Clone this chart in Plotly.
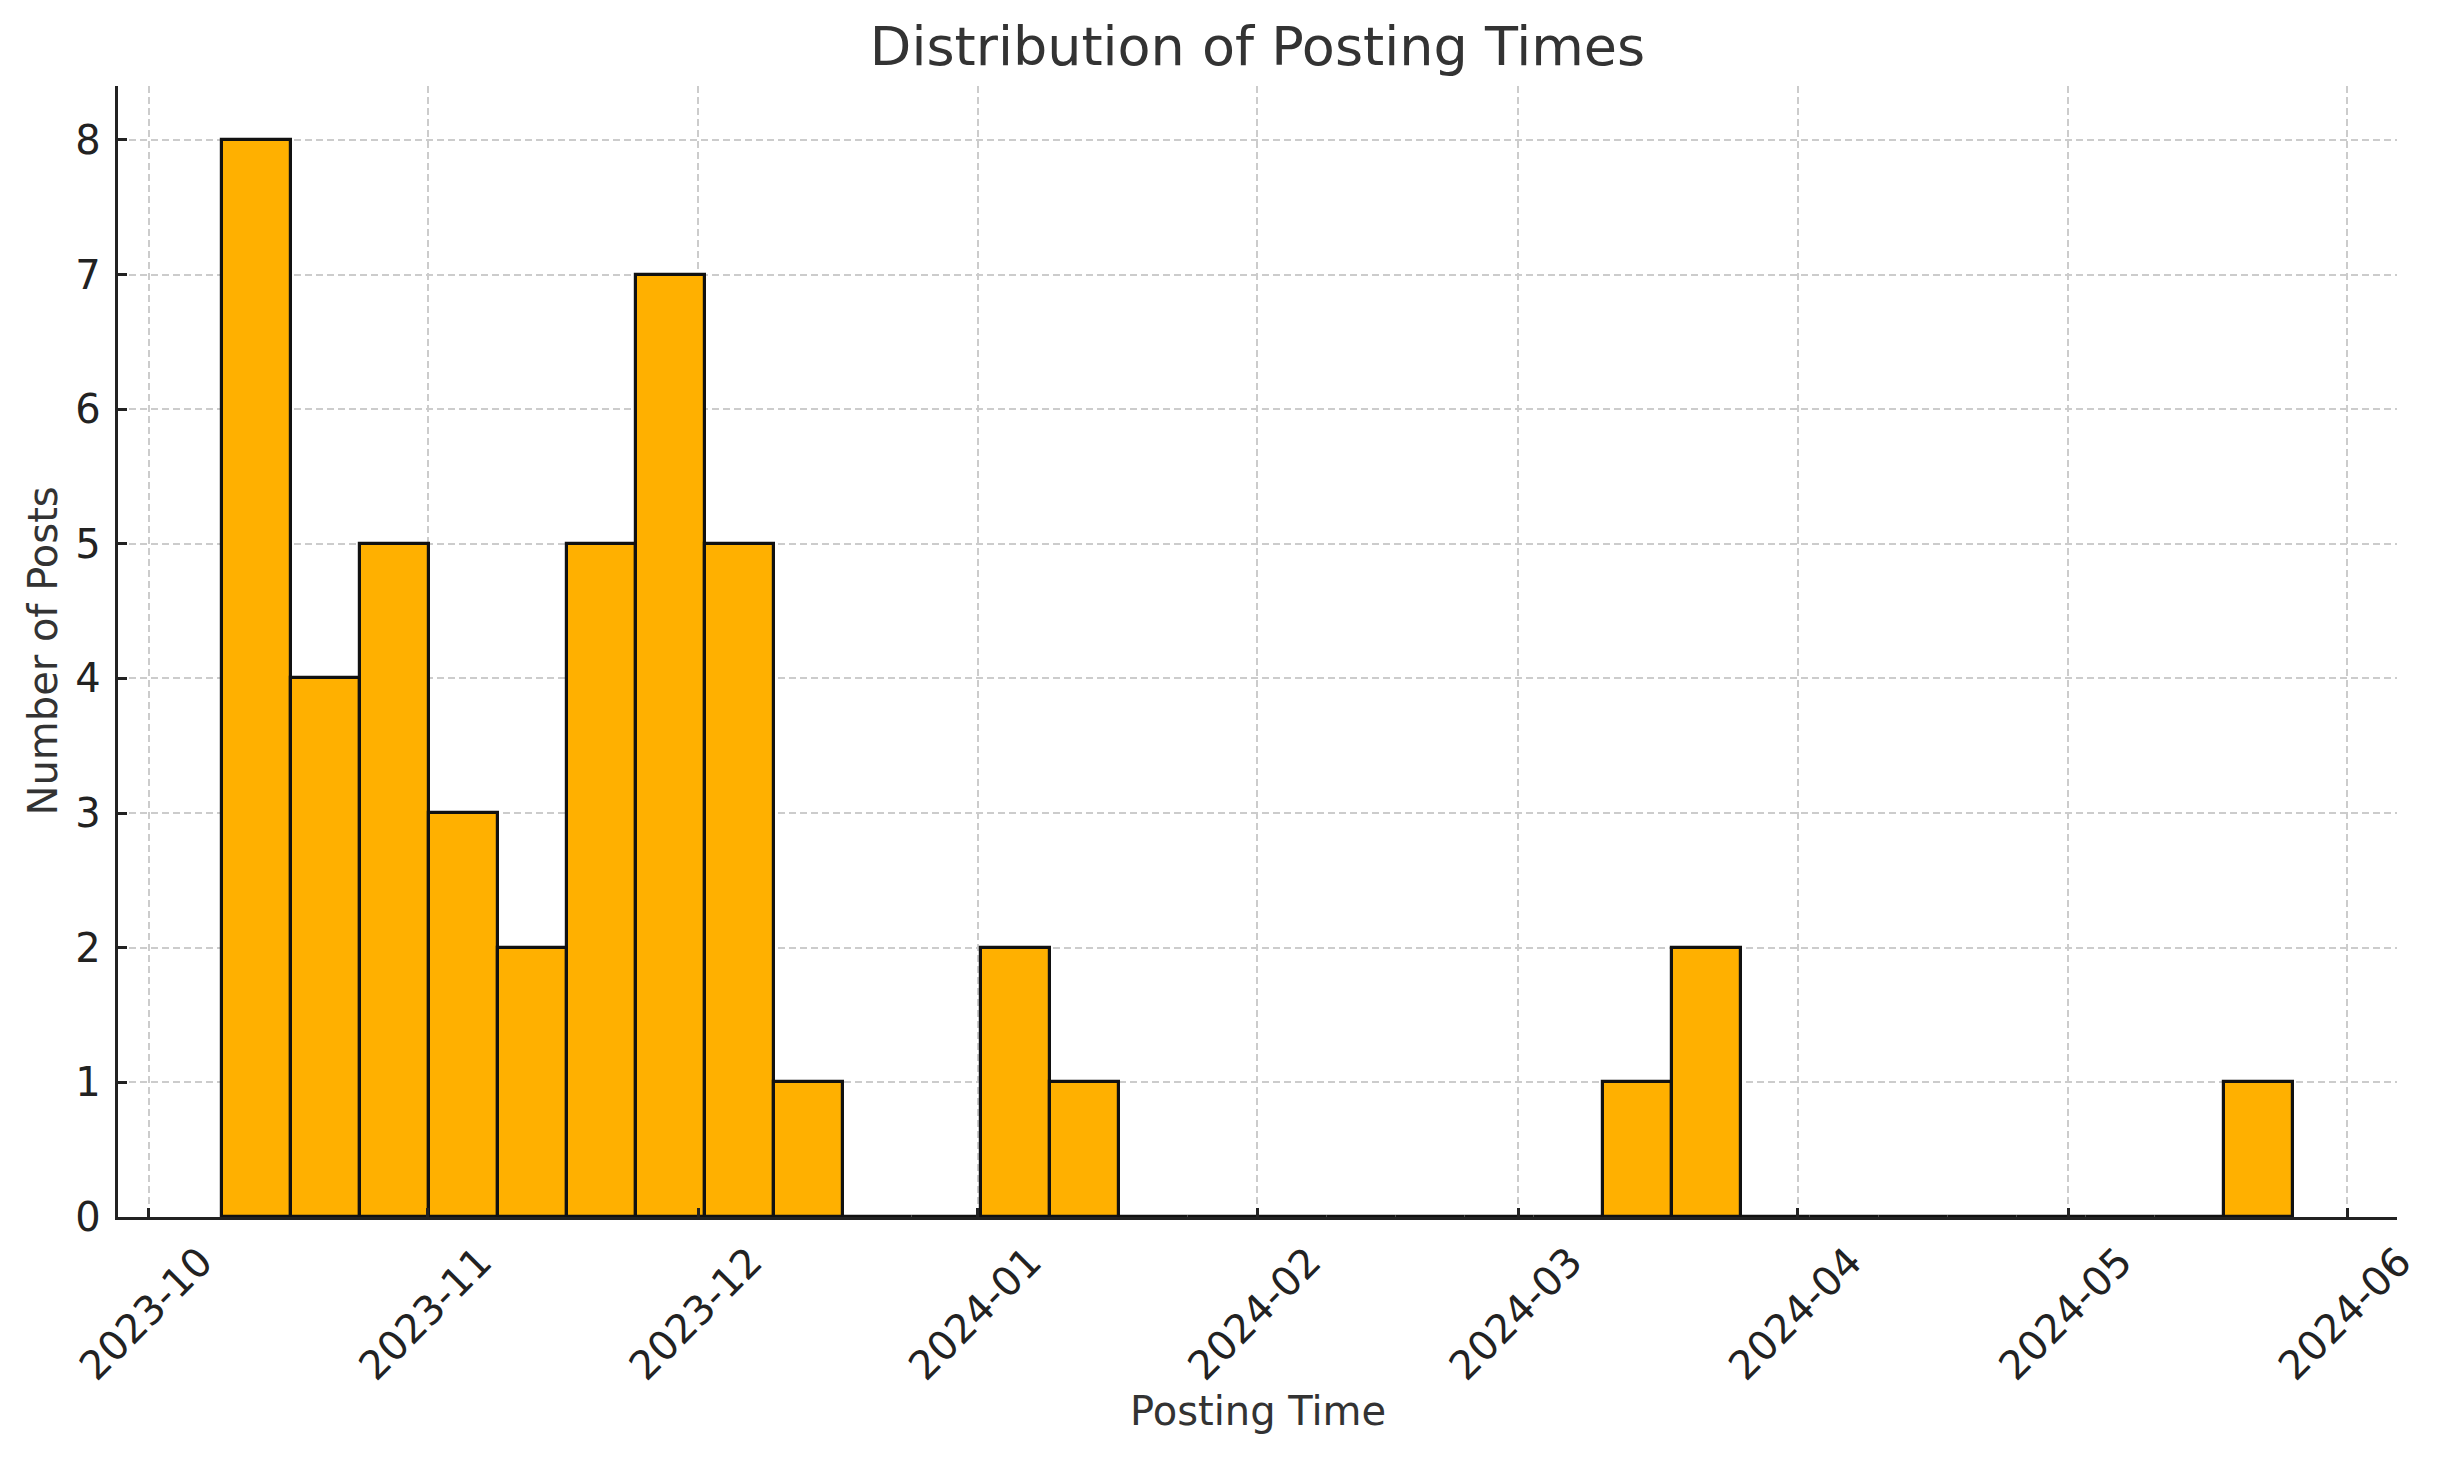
import pandas as pd
import plotly.graph_objects as go

# histogram: 30 equal bins between first and last post
bin_start = "2023-10-09 02:24"
bin_end = "2024-05-26 00:00"
n_bins = 30
counts = [8, 4, 5, 3, 2, 5, 7, 5, 1, 0,
          0, 2, 1, 0, 0, 0, 0, 0, 0, 0,
          1, 2, 0, 0, 0, 0, 0, 0, 0, 1]

edges = pd.date_range(bin_start, bin_end, periods=n_bins + 1)
bin_w = edges[1] - edges[0]
centers = edges[:-1] + bin_w / 2
span = edges[-1] - edges[0]
x_range = [edges[0] - span * 0.05, edges[-1] + span * 0.05]

fig = go.Figure()
fig.add_trace(go.Bar(
    x=centers,
    y=counts,
    width=bin_w.total_seconds() * 1000,
    marker=dict(color="#FFB000", line=dict(color="#111111", width=3.2)),
    showlegend=False,
))

axis_common = dict(
    showline=True,
    linecolor="#222222",
    linewidth=3.4,
    ticks="inside",
    ticklen=9,
    tickwidth=3,
    tickcolor="#222222",
    showgrid=True,
    gridcolor="#cccccc",
    gridwidth=2,
    griddash="7px,4px",
    zeroline=False,
    automargin=False,
    tickfont=dict(family="DejaVu Sans", size=40, color="#222222"),
    mirror=False,
)

fig.update_xaxes(
    type="date",
    range=[x_range[0].strftime("%Y-%m-%d %H:%M"), x_range[1].strftime("%Y-%m-%d %H:%M")],
    dtick="M1",
    tick0="2023-10-01",
    tickformat="%Y-%m",
    tickangle=-45,
    ticklabelshift=52,
    ticklabelstandoff=2,
    **axis_common,
)
fig.update_yaxes(
    range=[0, 8.4],
    dtick=1,
    ticklabelstandoff=6,
    **axis_common,
)

# the page body adds an 8px offset, so margins are trimmed by that much
fig.update_layout(
    width=2445,
    height=1458,
    margin=dict(l=110, r=56, t=78, b=249),
    plot_bgcolor="white",
    paper_bgcolor="white",
    bargap=0,
    title=dict(
        text="Distribution of Posting Times",
        x=0.5, xref="paper", xanchor="center",
        y=1 - 38 / 1458, yref="container", yanchor="middle",
        font=dict(family="DejaVu Sans", size=54, color="#333333"),
    ),
    annotations=[
        dict(text="Posting Time", xref="paper", yref="paper", x=0.5, y=0,
             yshift=-194, xanchor="center", yanchor="middle", showarrow=False,
             font=dict(family="DejaVu Sans", size=40, color="#333333")),
        dict(text="Number of Posts", xref="paper", yref="paper", x=0, y=0.5,
             xshift=-76, xanchor="center", yanchor="middle", showarrow=False,
             textangle=-90,
             font=dict(family="DejaVu Sans", size=40, color="#333333")),
    ],
)

fig.write_html("out.html")
